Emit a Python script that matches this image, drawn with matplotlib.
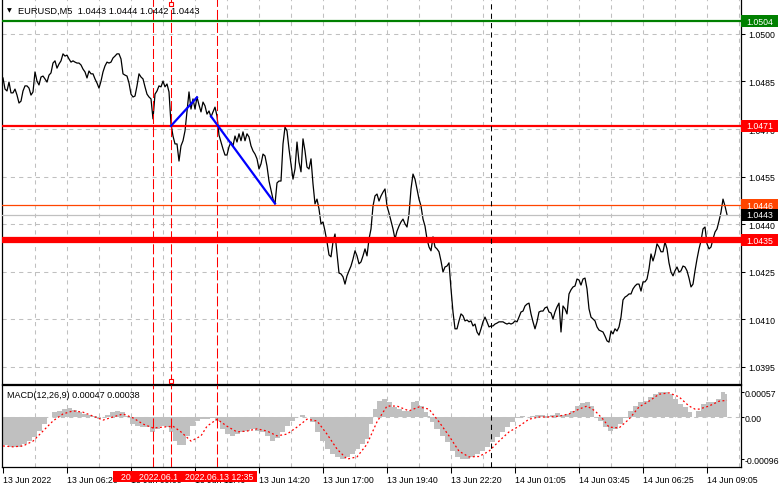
import numpy as np
import matplotlib.pyplot as plt
from matplotlib.patches import Rectangle

plt.rcParams['font.family'] = ['Liberation Sans', 'DejaVu Sans']

# EURUSD M5 closes, one per bar, first bar 13 Jun 03:40
close = [
    1.04861, 1.04826, 1.04820, 1.04848, 1.04814, 1.04814, 1.04826, 1.04807, 1.04782, 1.04788,
    1.04820, 1.04836, 1.04836, 1.04829, 1.04807, 1.04817, 1.04880, 1.04851, 1.04839, 1.04864,
    1.04867, 1.04858, 1.04848, 1.04870, 1.04877, 1.04908, 1.04915, 1.04892, 1.04905, 1.04915,
    1.04937, 1.04930, 1.04933, 1.04921, 1.04911, 1.04915, 1.04911, 1.04908, 1.04908, 1.04902,
    1.04889, 1.04880, 1.04861, 1.04883, 1.04874, 1.04874, 1.04858, 1.04845, 1.04829, 1.04851,
    1.04880, 1.04899, 1.04911, 1.04908, 1.04911, 1.04924, 1.04930, 1.04937, 1.04937, 1.04921,
    1.04874, 1.04870, 1.04867, 1.04845, 1.04810, 1.04801, 1.04804, 1.04836, 1.04874, 1.04864,
    1.04858, 1.04833, 1.04810, 1.04801, 1.04795, 1.04732, 1.04810, 1.04820, 1.04836, 1.04833,
    1.04851, 1.04833, 1.04842, 1.04817, 1.04716, 1.04678, 1.04653, 1.04653, 1.04599, 1.04647,
    1.04663, 1.04694, 1.04754, 1.04817, 1.04763, 1.04795, 1.04763, 1.04801, 1.04776, 1.04754,
    1.04785, 1.04773, 1.04747, 1.04757, 1.04738, 1.04754, 1.04769, 1.04741, 1.04681, 1.04659,
    1.04637, 1.04618, 1.04618, 1.04644, 1.04659, 1.04647, 1.04678, 1.04659, 1.04685, 1.04663,
    1.04691, 1.04663, 1.04685, 1.04675, 1.04647, 1.04631, 1.04621, 1.04606, 1.04574, 1.04590,
    1.04621, 1.04615, 1.04583, 1.04536, 1.04508, 1.04479, 1.04464, 1.04530, 1.04536, 1.04536,
    1.04653, 1.04706, 1.04694, 1.04637, 1.04590, 1.04542, 1.04574, 1.04659, 1.04596, 1.04565,
    1.04669, 1.04631, 1.04580, 1.04574, 1.04606, 1.04527, 1.04464, 1.04479, 1.04448, 1.04401,
    1.04407, 1.04378, 1.04344, 1.04303, 1.04297, 1.04344, 1.04369, 1.04306, 1.04246, 1.04243,
    1.04234, 1.04211, 1.04237, 1.04253, 1.04268, 1.04290, 1.04316, 1.04300, 1.04275, 1.04281,
    1.04300, 1.04322, 1.04300, 1.04353, 1.04385, 1.04457, 1.04489, 1.04495, 1.04473, 1.04489,
    1.04501, 1.04511, 1.04457, 1.04435, 1.04410, 1.04385, 1.04353, 1.04378, 1.04394, 1.04407,
    1.04416, 1.04401, 1.04391, 1.04432, 1.04511, 1.04558, 1.04542, 1.04511, 1.04479, 1.04457,
    1.04416, 1.04394, 1.04353, 1.04328, 1.04316, 1.04360, 1.04328, 1.04322, 1.04313, 1.04284,
    1.04249, 1.04265, 1.04268, 1.04278, 1.04196, 1.04123, 1.04070, 1.04070, 1.04095, 1.04117,
    1.04111, 1.04095, 1.04098, 1.04092, 1.04095, 1.04079, 1.04085, 1.04060, 1.04050, 1.04070,
    1.04092, 1.04107, 1.04092, 1.04076, 1.04079, 1.04079, 1.04085, 1.04088, 1.04092, 1.04092,
    1.04092, 1.04088, 1.04085, 1.04088, 1.04085, 1.04088, 1.04095, 1.04092, 1.04107, 1.04123,
    1.04126, 1.04142, 1.04148, 1.04151, 1.04117, 1.04092, 1.04070, 1.04092, 1.04123, 1.04126,
    1.04126, 1.04136, 1.04139, 1.04123, 1.04120, 1.04101, 1.04123, 1.04139, 1.04151, 1.04060,
    1.04142, 1.04133, 1.04117, 1.04180, 1.04193, 1.04202, 1.04205, 1.04227, 1.04224, 1.04208,
    1.04227, 1.04230, 1.04196, 1.04133, 1.04107, 1.04101, 1.04095, 1.04076, 1.04066, 1.04063,
    1.04060, 1.04047, 1.04032, 1.04028, 1.04063, 1.04054, 1.04070, 1.04063, 1.04076, 1.04107,
    1.04161, 1.04170, 1.04174, 1.04180, 1.04180, 1.04196, 1.04205, 1.04211, 1.04211, 1.04189,
    1.04218, 1.04218, 1.04227, 1.04259, 1.04306, 1.04284, 1.04306, 1.04338, 1.04328, 1.04313,
    1.04313, 1.04344, 1.04322, 1.04278, 1.04249, 1.04237, 1.04253, 1.04265, 1.04249, 1.04253,
    1.04268, 1.04265, 1.04253, 1.04230, 1.04202, 1.04211, 1.04253, 1.04290, 1.04322, 1.04347,
    1.04385, 1.04391, 1.04338, 1.04322, 1.04328, 1.04353, 1.04375, 1.04385, 1.04410, 1.04438,
    1.04479, 1.04457, 1.04430,
]

# MACD main (histogram) sampled by bar
hist_bar = [0, 5, 8, 11, 13, 16, 18, 21, 23, 26, 28, 31, 33, 36, 38, 41, 43, 46, 48, 50,
            52, 55, 57, 60, 62, 65, 67, 70, 72, 75, 77, 80, 82, 84, 86, 88, 91, 92, 95, 97,
            100, 102, 105, 107, 110, 112, 115, 117, 120, 122, 125, 127, 130, 132, 135, 137, 140, 142, 145, 147,
            150, 152, 155, 157, 160, 162, 165, 167, 170, 172, 175, 177, 180, 182, 184, 186, 188, 191, 193, 196,
            198, 201, 203, 205, 207, 209, 212, 213, 214, 217, 220, 222, 225, 227, 230, 232, 235, 237, 240, 242,
            245, 247, 250, 252, 255, 257, 260, 262, 265, 267, 270, 272, 275, 277, 280, 282, 285, 287, 290, 292,
            295, 296, 299, 301, 304, 306, 309, 311, 314, 316, 319, 321, 324, 326, 329, 331, 334, 336, 339, 341,
            344, 345, 348, 350, 353, 355, 358, 360, 362]
hist_val = [-0.00064, -0.00068, -0.00068, -0.00062, -0.00055, -0.00046, -0.00032, -0.00016, 0.0, 0.00011,
            0.00014, 0.00018, 0.00021, 0.00016, 0.00011, 0.00007, 0.00005, 0.00002, -0.00005, 0.0,
            0.00005, 0.00011, 0.00014, 0.00011, 0.00002, -0.00016, -0.00021, -0.00023, -0.00023, -0.00034,
            -0.00027, -0.00021, -0.00023, -0.00034, -0.00055, -0.00064, -0.00064, -0.00043, -0.00021, -0.00009,
            -0.00005, -0.00005, -0.00002, -0.00009, -0.00027, -0.00039, -0.00043, -0.00039, -0.00034, -0.00032,
            -0.00027, -0.00032, -0.00034, -0.00043, -0.00055, -0.00048, -0.00034, -0.00021, -0.00009, 0.0,
            0.00005, 0.0, -0.00011, -0.00034, -0.00055, -0.00073, -0.00084, -0.00091, -0.00096, -0.00091,
            -0.00084, -0.00073, -0.00062, -0.00050, -0.00016, 0.00018, 0.00036, 0.00041, 0.00034, 0.00023,
            0.00018, 0.00014, 0.00014, 0.00034, 0.00036, 0.00025, 0.00012, 0.00002, -0.00011, -0.00027,
            -0.00043, -0.00057, -0.00078, -0.00091, -0.00096, -0.00096, -0.00091, -0.00084, -0.00078, -0.00068,
            -0.00057, -0.00046, -0.00034, -0.00023, -0.00011, -0.00002, 0.00002, 0.0, 0.00002, 0.00005,
            0.00005, 0.00002, 0.00005, 0.00009, 0.00005, 0.00007, 0.00014, 0.00025, 0.00032, 0.00034,
            0.00025, 0.0, -0.00009, -0.00023, -0.00032, -0.00027, -0.00016, -0.00002, 0.00014, 0.00025,
            0.00034, 0.00036, 0.00046, 0.00052, 0.00057, 0.00057, 0.00052, 0.00041, 0.00030, 0.00023,
            0.00011, 0.0, 0.00014, 0.00030, 0.00034, 0.00034, 0.00041, 0.00057, 0.00052]

# MACD signal line sampled by bar
sig_bar = [0, 5, 10, 15, 20, 25, 30, 35, 40, 45, 50, 55, 60, 65, 70, 75, 80, 85, 89, 94,
           99, 102, 107, 112, 117, 122, 127, 132, 137, 142, 147, 152, 157, 162, 167, 172, 177, 182, 187, 192,
           197, 203, 208, 213, 218, 223, 228, 233, 238, 243, 248, 253, 258, 263, 268, 273, 278, 283, 288, 292,
           296, 300, 303, 308, 313, 318, 323, 328, 333, 338, 343, 346, 348, 353, 358, 362]
sig_val = [-0.00066, -0.00068, -0.00066, -0.00055, -0.00032, -0.00009, 0.00007, 0.00014, 0.00011, 0.00002,
           -0.00007, 0.0, 0.00007, -0.00002, -0.00016, -0.00025, -0.00023, -0.00021, -0.00034, -0.00055,
           -0.00043, -0.00021, -0.00005, -0.00021, -0.00034, -0.00032, -0.00027, -0.00032, -0.00043, -0.00039,
           -0.00023, -0.00005, -0.00009, -0.00039, -0.00073, -0.00096, -0.00091, -0.00062, -0.00011, 0.00025,
           0.00025, 0.00014, 0.00023, 0.00018, -0.00011, -0.00043, -0.00078, -0.00091, -0.00090, -0.00078,
           -0.00055, -0.00034, -0.00021, -0.00005, 0.0, 0.0, 0.00002, 0.00007, 0.00018, 0.00025,
           0.00014, -0.00005, -0.00023, -0.00025, -0.00005, 0.00023, 0.00036, 0.00052, 0.00055, 0.00046,
           0.00025, 0.00018, 0.00018, 0.00025, 0.00036, 0.00038]

# time axis labels (every 32 bars)
tick_bars = [0, 32, 64, 96, 128, 160, 192, 224, 256, 288, 320, 352]
tick_labels = ["13 Jun 2022", "13 Jun 06:20", "13 Jun 09:00", "13 Jun 11:40", "13 Jun 14:20",
               "13 Jun 17:00", "13 Jun 19:40", "13 Jun 22:20", "14 Jun 01:05", "14 Jun 03:45",
               "14 Jun 06:25", "14 Jun 09:05"]
price_ticks = [1.0395, 1.0410, 1.0425, 1.0440, 1.0455, 1.0470, 1.0485, 1.0500]

# chart objects
vline_bars = [75, 84, 107]
vline_labels = ["2022.06.13 09:55", "2022.06.13 10:40", "2022.06.13 12:35"]
cursor_bar = 244
trend1_bars, trend1_prices = [84, 97], [1.0471, 1.0480]
trend2_bars, trend2_prices = [104, 136], [1.0474, 1.04465]
levels = [1.0504, 1.0471, 1.0446, 1.0443, 1.0435]
level_colors = ['#008000', '#FF0000', '#FF4500', '#C0C0C0', '#FF0000']
level_widths = [1.6, 1.6, 0.9, 0.9, 4.5]
tag_colors = ['#008000', '#FF0000', '#FF4500', '#000000', '#FF0000']

W, H = 781, 489
fig = plt.figure(figsize=(W / 100, H / 100), dpi=100)


def px_axes(left, top, right, bottom):
    return fig.add_axes([left / W, 1 - bottom / H, (right - left) / W, (bottom - top) / H])


ax = px_axes(2, 0, 741, 385)
ax2 = px_axes(2, 386, 741, 468)

grid_kw = dict(color='#C0C0C0', lw=0.75, linestyle=(0, (4, 4)), zorder=0)
fs = 6.3

# ---- price panel ----
bars = np.arange(len(close))
ax.set_xlim(-0.5, 369)
ax.set_ylim(1.03896, 1.05110)
for b in range(16, 369, 16):
    ax.axvline(b, **grid_kw)
for p in price_ticks:
    ax.axhline(p, **grid_kw)

ax.plot(bars, close, color='black', lw=0.9, zorder=2)

for lv, c, w in zip(levels, level_colors, level_widths):
    ax.axhline(lv, color=c, lw=w, zorder=3)

ax.plot(trend1_bars, trend1_prices, color='#0000FF', lw=1.6, zorder=4)
ax.plot(trend2_bars, trend2_prices, color='#0000FF', lw=1.6, zorder=4)

for a in (ax, ax2):
    for b in vline_bars:
        a.axvline(b, color='#FF0000', lw=0.75, linestyle=(0, (9.6, 2.9)), zorder=5)
    a.axvline(cursor_bar, color='black', lw=0.75, linestyle=(0, (5, 4)), zorder=5)

# anchors of the selected vertical line
ax.plot([vline_bars[1]] * 2, [0.988, 0.009], 's', mfc='white', mec='#FF0000', ms=3.5, mew=0.8,
        transform=ax.get_xaxis_transform(), clip_on=False, zorder=6)

ax.yaxis.tick_right()
ax.set_yticks(price_ticks)
ax.set_yticklabels([f"{p:.4f}" for p in price_ticks])
ax.tick_params(axis='y', length=3, width=0.75, pad=2, labelsize=fs, colors='black')
ax.tick_params(axis='x', length=0, labelbottom=False)
ax.spines['top'].set_visible(False)
for s in ('left', 'right', 'bottom'):
    ax.spines[s].set_linewidth(0.9)

# right price tags (current price tag drawn last)
tag_h = 12 * (1.05110 - 1.03896) / 385
order = [0, 1, 4, 2, 3]
for i in order:
    lv, c = levels[i], tag_colors[i]
    ax.add_patch(Rectangle((1.0, lv - tag_h / 2), 37 / 739, tag_h, transform=ax.get_yaxis_transform(),
                           facecolor=c, edgecolor='none', clip_on=False, zorder=10))
    ax.text(1.0 + 18.5 / 739, lv, f"{lv:.4f}", transform=ax.get_yaxis_transform(), color='white',
            fontsize=fs, ha='center', va='center', clip_on=False, zorder=11)

fig.text(7 / W, 1 - 10.5 / H, "\u25bc", fontsize=4.5, va='center', family='DejaVu Sans')
fig.text(18 / W, 1 - 11 / H, "EURUSD,M5  1.0443 1.0444 1.0442 1.0443", fontsize=6.7, va='center')

# ---- MACD panel ----
ax2.set_xlim(-0.5, 369)
ax2.set_ylim(-0.00114, 0.00073)
for b in range(16, 369, 16):
    ax2.axvline(b, **grid_kw)
ax2.axhline(0, **grid_kw)
ax2.fill_between(hist_bar, 0, hist_val, step='mid', color='#C0C0C0', lw=0, zorder=1)
ax2.plot(sig_bar, sig_val, color='#FF0000', lw=0.9, linestyle=(0, (1.5, 2)), zorder=3)

ax2.yaxis.tick_right()
ax2.set_yticks([0.00057, 0.0, -0.00096])
ax2.set_yticklabels(["0.00057", "0.00", "-0.00096"])
ax2.tick_params(axis='y', length=2, width=0.75, pad=0.5, labelsize=fs)
ax2.set_xticks(tick_bars)
ax2.set_xticklabels(tick_labels)
for lbl in ax2.get_xticklabels():
    lbl.set_ha('left')
ax2.tick_params(axis='x', length=4, width=0.75, pad=2, labelsize=fs)
for s in ax2.spines.values():
    s.set_linewidth(0.9)

fig.text(7 / W, 1 - 396 / H, "MACD(12,26,9) 0.00047 0.00038", fontsize=6.5, va='center')

# time labels of the vertical lines, each box covers the previous one
for k, (b, t) in enumerate(zip(vline_bars, vline_labels)):
    ax2.add_patch(Rectangle((b - 20, -0.183), 40, 0.134, transform=ax2.get_xaxis_transform(),
                            facecolor='#FF0000', edgecolor='none', clip_on=False, zorder=10 + 2 * k))
    ax2.text(b + 1, -0.118, t, transform=ax2.get_xaxis_transform(), color='white', fontsize=fs,
             ha='center', va='center', clip_on=False, zorder=11 + 2 * k)

fig.savefig("out.png", dpi=100)
